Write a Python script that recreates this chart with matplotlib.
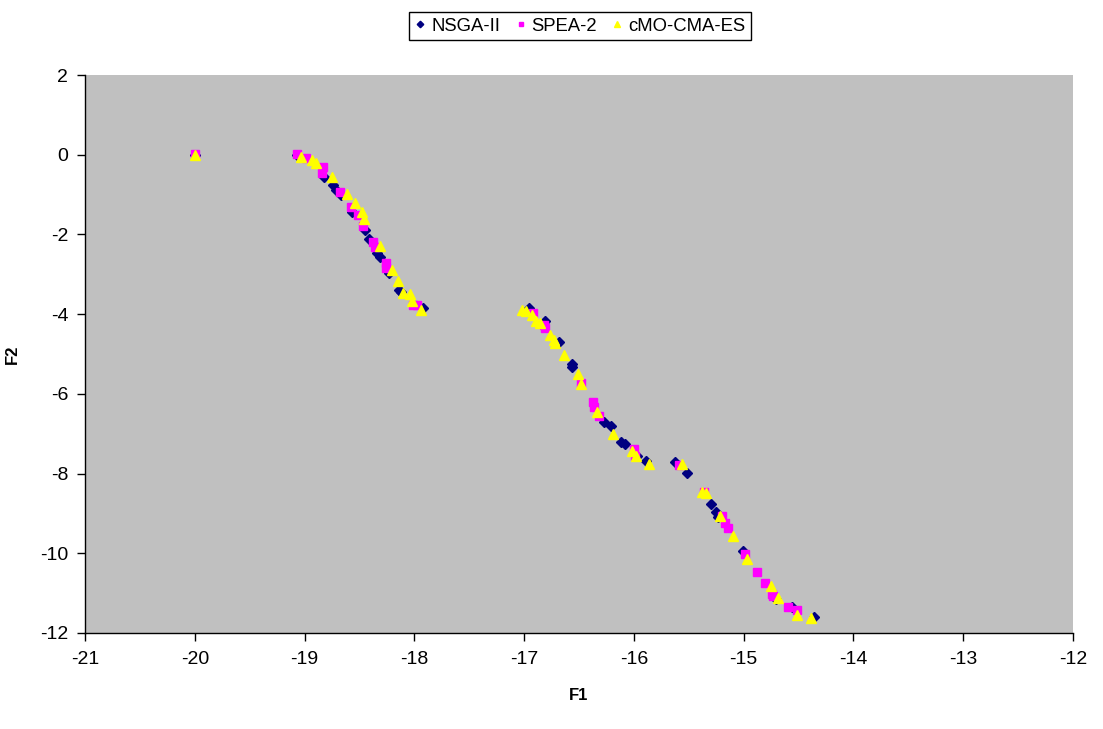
import matplotlib
matplotlib.use("Agg")
import matplotlib.pyplot as plt

plt.rcParams['font.family'] = ['Liberation Sans', 'DejaVu Sans']
plt.rcParams['axes.unicode_minus'] = False

nsga_f1 = [-20.0, -19.07, -18.82, -18.74, -18.71, -18.67, -18.57, -18.45, -18.41, -18.34, -18.31,
           -18.23, -18.14, -18.12, -17.92, -16.96, -16.81, -16.68, -16.56, -16.56, -16.27, -16.21,
           -16.12, -16.08, -15.97, -15.89, -15.63, -15.52, -15.30, -15.25, -15.23, -15.01, -14.71,
           -14.56, -14.36]
nsga_f2 = [0.0, 0.0, -0.55, -0.76, -0.89, -1.01, -1.43, -1.89, -2.12, -2.47, -2.57,
           -2.98, -3.39, -3.45, -3.85, -3.85, -4.16, -4.71, -5.25, -5.32, -6.71, -6.81,
           -7.22, -7.27, -7.57, -7.68, -7.72, -7.99, -8.76, -8.97, -9.10, -9.94, -11.14,
           -11.36, -11.61]

spea_f1 = [-20.0, -19.07, -18.99, -18.83, -18.84, -18.68, -18.58, -18.51, -18.47, -18.38, -18.36,
           -18.26, -18.26, -18.01, -17.98, -16.92, -16.82, -16.81, -16.48, -16.37, -16.36, -16.32,
           -16.00, -15.99, -15.59, -15.36, -15.20, -15.17, -15.14, -14.99, -14.88, -14.81, -14.74,
           -14.73, -14.60, -14.51]
spea_f2 = [0.02, 0.03, -0.07, -0.32, -0.47, -0.93, -1.30, -1.51, -1.80, -2.18, -2.31,
           -2.72, -2.83, -3.77, -3.77, -3.98, -4.27, -4.36, -5.72, -6.21, -6.32, -6.55,
           -7.38, -7.55, -7.78, -8.47, -9.06, -9.25, -9.37, -10.02, -10.48, -10.75, -11.02,
           -11.06, -11.36, -11.42]

cmo_f1 = [-20.0, -19.03, -18.93, -18.90, -18.75, -18.61, -18.54, -18.48, -18.46, -18.31, -18.20,
          -18.15, -18.10, -18.04, -18.02, -17.94, -17.02, -16.98, -16.93, -16.89, -16.86, -16.76,
          -16.73, -16.72, -16.64, -16.51, -16.48, -16.34, -16.19, -16.02, -15.98, -15.86, -15.56,
          -15.38, -15.34, -15.22, -15.10, -14.97, -14.75, -14.69, -14.51, -14.39]
cmo_f2 = [0.0, -0.05, -0.13, -0.20, -0.55, -0.99, -1.20, -1.43, -1.62, -2.29, -2.89,
          -3.17, -3.46, -3.49, -3.66, -3.90, -3.90, -3.91, -4.02, -4.16, -4.21, -4.52,
          -4.65, -4.73, -5.02, -5.51, -5.76, -6.45, -7.01, -7.43, -7.57, -7.76, -7.76,
          -8.47, -8.50, -9.06, -9.56, -10.14, -10.81, -11.13, -11.55, -11.63]

series_names = ["NSGA-II", "SPEA-2", "cMO-CMA-ES"]
x_ticks = [-21, -20, -19, -18, -17, -16, -15, -14, -13, -12]
y_ticks = [2, 0, -2, -4, -6, -8, -10, -12]

fig = plt.figure(figsize=(11.03, 7.29), dpi=100)
ax = fig.add_axes([0.0771, 0.1317, 0.8957, 0.7654])
ax.set_facecolor('#C0C0C0')

ax.plot(nsga_f1, nsga_f2, linestyle='none', marker='D', ms=5.5, color='#000080',
        mec='#000080', label=series_names[0])
ax.plot(spea_f1, spea_f2, linestyle='none', marker='s', ms=6, color='#FF00FF',
        mec='#FF00FF', label=series_names[1])
ax.plot(cmo_f1, cmo_f2, linestyle='none', marker='^', ms=7.5, color='#FFFF00',
        mec='#FFFF00', label=series_names[2])

ax.set_xlim(-21, -12)
ax.set_ylim(-12, 2)
ax.set_xticks(x_ticks)
ax.set_yticks(y_ticks)
ax.tick_params(axis='both', direction='out', length=6, width=1, labelsize=14, color='black')
ax.tick_params(axis='x', pad=7)
ax.tick_params(axis='y', pad=6)
for s in ['top', 'right']:
    ax.spines[s].set_visible(False)
for s in ['left', 'bottom']:
    ax.spines[s].set_color('black')
    ax.spines[s].set_linewidth(1)

ax.set_xlabel('F1', fontsize=12, fontweight='bold')
ax.set_ylabel('F2', fontsize=12, fontweight='bold')
ax.xaxis.set_label_coords(0.5, -0.098)
ax.yaxis.set_label_coords(-0.066, 0.5)

leg = fig.legend(loc='center', bbox_to_anchor=(0.526, 0.964), ncol=3, fontsize=13.3,
                 frameon=True, fancybox=False, edgecolor='black', framealpha=1,
                 handlelength=0.6, handletextpad=0.3, columnspacing=0.8,
                 markerscale=0.6, borderpad=0.3)
leg.get_frame().set_linewidth(1)

fig.savefig('out.png', dpi=100)
